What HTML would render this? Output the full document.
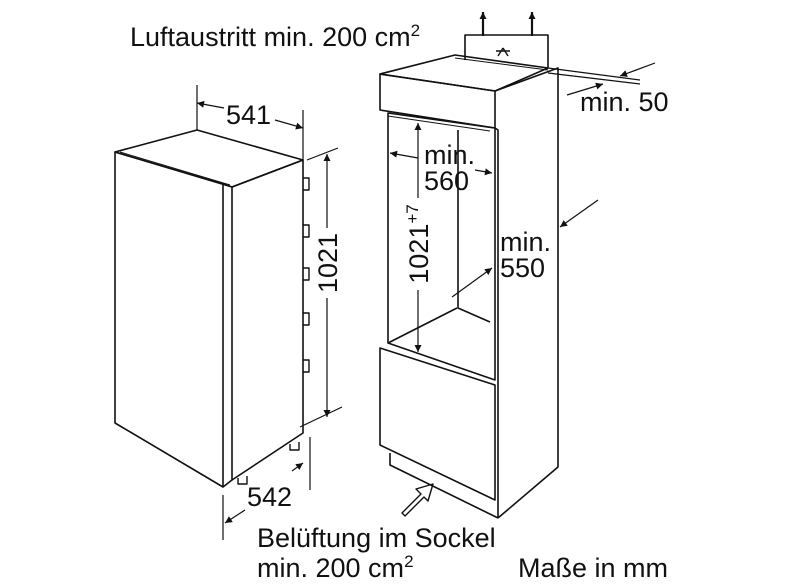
<!DOCTYPE html>
<html><head><meta charset="utf-8"><style>
html,body{margin:0;padding:0;background:#fff;}
svg{display:block;}
text{font-family:"Liberation Sans",sans-serif;fill:#111;}
</style></head><body>
<svg width="786" height="587" viewBox="0 0 786 587" xmlns="http://www.w3.org/2000/svg">
<defs>
<marker id="a" viewBox="0 0 10 10" refX="10" refY="5" markerWidth="10" markerHeight="7" orient="auto-start-reverse" markerUnits="userSpaceOnUse"><path d="M0,0L10,5L0,10z" fill="#111"/></marker>
</defs>
<g fill="none" stroke="#111" stroke-width="1.6" stroke-linejoin="round">
<!-- Left fridge -->
<path d="M115,152 L197,130 L303,160 L232,187 Z"/>
<path d="M115,152 L223,184 L223,487 L115,423 Z"/>
<path d="M223,184 L232,187 L232,480 L223,487"/>
<path d="M120,152 L230,185" stroke-width="1"/>
<path d="M232,187 L303,160 L303,433 L232,480"/>
<g stroke-width="1.4">
<path d="M303,178 h6 v12 h-6"/><path d="M303,225 h6 v12 h-6"/><path d="M303,268 h6 v12 h-6"/><path d="M303,313 h6 v12 h-6"/><path d="M303,360 h6 v12 h-6"/>
<path d="M238,478 v6 h9 v-8"/><path d="M290,444 v6 h9 v-8"/>
</g>
<!-- dims -->
<g stroke-width="1.2">
<path d="M197,85 V130"/><path d="M303,110 V160"/>
<path d="M197,103 L224,108" marker-start="url(#a)"/><path d="M275,120 L303,128" marker-end="url(#a)"/>
<path d="M307,160 L338,148"/><path d="M300,427 L342,407"/>
<path d="M327,154 V228" marker-start="url(#a)"/><path d="M327,298 V417" marker-end="url(#a)"/>
<path d="M310,437 V490"/><path d="M223,495 V540"/>
<path d="M303,463 L292,471" marker-start="url(#a)"/><path d="M245,510 L225,523" marker-end="url(#a)"/>
</g>
<!-- Cabinet -->
<path d="M380,74 L455,55 L548,68 L495,91 Z"/>
<path d="M380,74 L495,91 L495,128 L380,110 Z"/>
<path d="M495,91 L558,68 L558,433"/>
<path d="M388,113 L495,128 L495,380 L388,343 Z"/>
<path d="M388,116 L490,131" stroke-width="1"/>
<path d="M458,130 V308 L490,322"/>
<path d="M388,343 L457,308"/>
<path d="M380,348 L495,385 L495,500 L380,445 Z"/>
<path d="M495,128 L498,130 L498,518"/>
<path d="M390,453 V465 L498,518"/>
<path d="M558,433 V467 L498,518"/>
<!-- vent -->
<path d="M465,60 V35 H548 V68"/>
<path d="M455,58 L548,70" stroke-width="1"/>
<path d="M503,48 L498,56 M503,48 L508,56 M496,51 H510" stroke-width="1.4"/>
<path d="M483,36 V12" marker-end="url(#a)" stroke-width="2.2"/>
<path d="M532,36 V12" marker-end="url(#a)" stroke-width="2.2"/>
<g stroke-width="1.2">
<path d="M548,68 L640,80"/><path d="M548,73 L640,84"/>
<path d="M655,63 L620,76" marker-end="url(#a)"/>
<path d="M567,95 L603,84" marker-end="url(#a)"/>
<path d="M418,158 L390,153" marker-end="url(#a)"/>
<path d="M475,170 L492,173" marker-end="url(#a)"/>
<path d="M418,198 V123" marker-end="url(#a)"/>
<path d="M418,290 V352" marker-end="url(#a)"/>
<path d="M452,297 L492,268" marker-end="url(#a)"/>
<path d="M598,200 L560,227" marker-end="url(#a)"/>
</g>
<path d="M402,513 L421,494 L416,489 L433,484 L428,501 L424,497 L405,516 Z" stroke-width="1.4"/>
</g>
<g font-size="27">
<text x="130" y="46">Luftaustritt min. 200 cm<tspan font-size="17" dy="-10">2</tspan></text>
<text x="226" y="124">541</text>
<text transform="translate(337,263) rotate(-90)" text-anchor="middle">1021</text>
<text x="247" y="506">542</text>
<text x="580" y="111">min. 50</text>
<text x="424" y="164">min.</text>
<text x="424" y="190">560</text>
<text transform="translate(428,244) rotate(-90)" text-anchor="middle">1021<tspan font-size="17" dy="-10">+7</tspan></text>
<text x="500" y="251">min.</text>
<text x="500" y="277">550</text>
<text x="257" y="547">Belüftung im Sockel</text>
<text x="257" y="577">min. 200 cm<tspan font-size="17" dy="-10">2</tspan></text>
<text x="518" y="577">Maße in mm</text>
</g>
</svg>
</body></html>
